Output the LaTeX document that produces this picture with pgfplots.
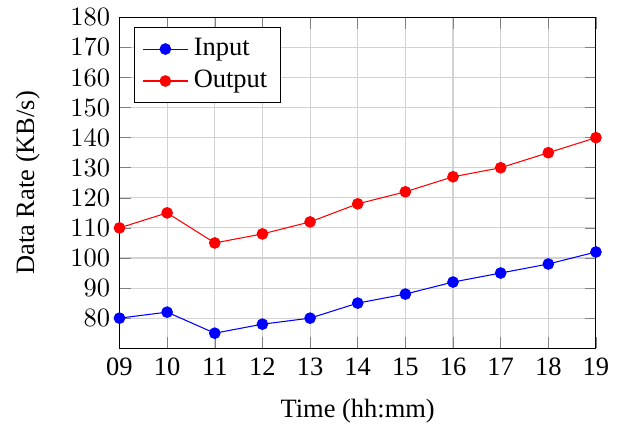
\documentclass[border=0pt]{standalone}
\usepackage{fontspec}
\setmainfont{Liberation Serif}
\usepackage{pgfplots}
\pgfplotsset{compat=1.18}
\begin{document}
\begin{tikzpicture}
\begin{axis}[
  scale only axis,
  width=180pt, height=125pt,
  xmin=9, xmax=19,
  ymin=70, ymax=180,
  xtick={9,10,...,19},
  xticklabels={09,10,11,12,13,14,15,16,17,18,19},
  ytick={80,90,...,180},
  grid=major,
  major grid style={gray!35},
  xlabel={Time (hh:mm)},
  ylabel={Data Rate (KB/s)},
  xlabel shift=2pt,
  ylabel shift=2pt,
  ylabel style={inner ysep=6pt},
  legend pos=north west,
  legend cell align=left,
]
\addplot[blue, mark=*] coordinates {
  (9,80) (10,82) (11,75) (12,78) (13,80) (14,85) (15,88) (16,92) (17,95) (18,98) (19,102)
};
\addlegendentry{Input}
\addplot[red, mark=*] coordinates {
  (9,110) (10,115) (11,105) (12,108) (13,112) (14,118) (15,122) (16,127) (17,130) (18,135) (19,140)
};
\addlegendentry{Output}
\end{axis}
\end{tikzpicture}
\end{document}
